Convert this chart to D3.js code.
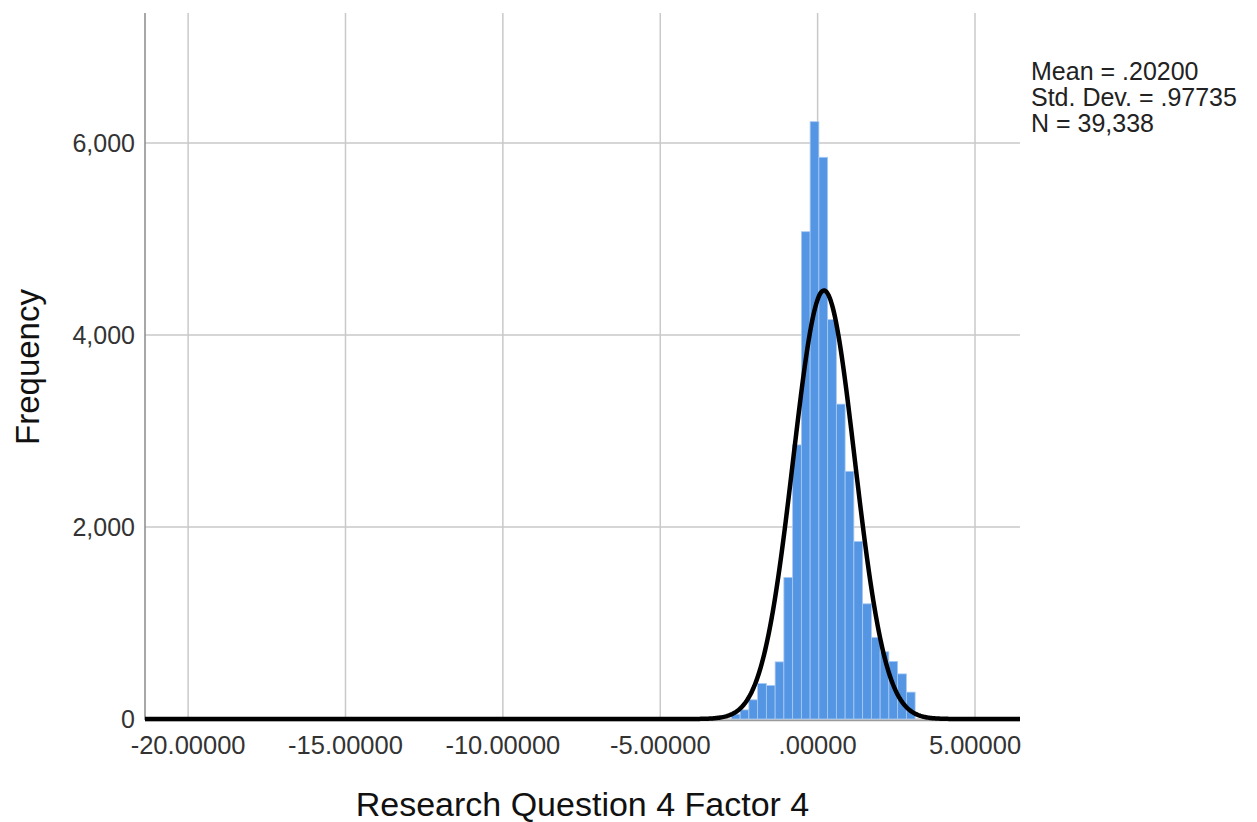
<!DOCTYPE html>
<html>
<head>
<meta charset="utf-8">
<script src="https://cdn.jsdelivr.net/npm/d3@7"></script>
<style>
  html, body { margin: 0; padding: 0; background: #fff; }
  svg { display: block; font-family: "Liberation Sans", Arial, sans-serif; }
</style>
</head>
<body>
<svg id="chart" width="1257" height="822"></svg>
<script>
// Histogram bins: lower edge of each bin and its frequency
const binStarts = [-2.740, -2.462, -2.184, -1.906, -1.628, -1.350, -1.072, -0.794, -0.516, -0.238,
                   0.040, 0.318, 0.596, 0.874, 1.152, 1.430, 1.708, 1.986, 2.264, 2.542, 2.820];
const binCounts = [50, 95, 200, 370, 350, 595, 1475, 2855, 5076, 6222,
                   5851, 4160, 3280, 2580, 1850, 1200, 850, 700, 600, 470, 280];
const binWidth = 0.278;

// Summary statistics shown in the legend and used for the normal curve
const statLabels = ["Mean = .20200", "Std. Dev. = .97735", "N = 39,338"];
const mean = 0.20200;
const stdDev = 0.97735;
const nCases = 39338;

// Axis ticks
const xTicks = [-20, -15, -10, -5, 0, 5];
const yTicks = [0, 2000, 4000, 6000];
const xTitle = "Research Question 4 Factor 4";
const yTitle = "Frequency";

const svg = d3.select("#chart");
const plot = { left: 145, right: 1020, top: 13, bottom: 719 };

const x = d3.scaleLinear().domain([-21.37, 6.43]).range([plot.left, plot.right]);
const y = d3.scaleLinear().domain([0, 7354]).range([plot.bottom, plot.top]);

const fmtX = v => {
  const s = d3.format(".5f")(Math.abs(v));
  const t = Math.abs(v) < 1 ? s.replace(/^0/, "") : s;
  return (v < 0 ? "-" : "") + t;
};
const fmtY = d3.format(",");

// Grid lines
const grid = svg.append("g").attr("class", "grid");
grid.selectAll("line.vx").data(xTicks).join("line")
  .attr("x1", d => x(d)).attr("x2", d => x(d))
  .attr("y1", plot.top).attr("y2", plot.bottom)
  .attr("stroke", "#c9c9c9").attr("stroke-width", 1.5);
grid.selectAll("line.hy").data(yTicks).join("line")
  .attr("x1", plot.left).attr("x2", plot.right)
  .attr("y1", d => y(d)).attr("y2", d => y(d))
  .attr("stroke", "#c9c9c9").attr("stroke-width", 1.5);

// Bars
svg.append("g").selectAll("rect").data(binStarts).join("rect")
  .attr("x", d => x(d))
  .attr("width", d => x(d + binWidth) - x(d))
  .attr("y", (d, i) => y(binCounts[i]))
  .attr("height", (d, i) => y(0) - y(binCounts[i]))
  .attr("fill", "#5596e4")
  .attr("stroke", "#a9caf2")
  .attr("stroke-width", 0.8);

// Axis lines
svg.append("line")
  .attr("x1", plot.left).attr("x2", plot.left)
  .attr("y1", plot.top).attr("y2", plot.bottom + 1)
  .attr("stroke", "#8a8a8a").attr("stroke-width", 1.5);
svg.append("line")
  .attr("x1", plot.left).attr("x2", plot.right)
  .attr("y1", plot.bottom + 1.5).attr("y2", plot.bottom + 1.5)
  .attr("stroke", "#9a9a9a").attr("stroke-width", 1.5);

// Fitted normal curve scaled to the histogram
const pdf = v => Math.exp(-0.5 * Math.pow((v - mean) / stdDev, 2)) / (stdDev * Math.sqrt(2 * Math.PI));
const [x0, x1] = x.domain();
const curvePts = d3.range(0, 801).map(i => {
  const v = x0 + (x1 - x0) * i / 800;
  return [v, nCases * binWidth * pdf(v)];
});
svg.append("path")
  .datum(curvePts)
  .attr("d", d3.line().x(d => x(d[0])).y(d => y(d[1])).curve(d3.curveLinear))
  .attr("fill", "none")
  .attr("stroke", "#000")
  .attr("stroke-width", 4.5)
  .attr("stroke-linejoin", "round");

// Tick labels
svg.append("g").selectAll("text").data(yTicks).join("text")
  .attr("x", plot.left - 10)
  .attr("y", d => y(d))
  .attr("dy", "0.36em")
  .attr("text-anchor", "end")
  .attr("font-size", 25)
  .attr("fill", "#333")
  .text(fmtY);

svg.append("g").selectAll("text").data(xTicks).join("text")
  .attr("x", d => x(d))
  .attr("y", 754)
  .attr("text-anchor", "middle")
  .attr("font-size", 25.5)
  .attr("fill", "#333")
  .text(fmtX);

// Axis titles
svg.append("text")
  .attr("x", (plot.left + plot.right) / 2)
  .attr("y", 816)
  .attr("text-anchor", "middle")
  .attr("font-size", 34)
  .attr("fill", "#111")
  .text(xTitle);

svg.append("text")
  .attr("transform", `translate(39, ${(plot.top + plot.bottom) / 2 + 1}) rotate(-90)`)
  .attr("text-anchor", "middle")
  .attr("font-size", 33)
  .attr("fill", "#111")
  .text(yTitle);

// Legend statistics
svg.append("g").selectAll("text").data(statLabels).join("text")
  .attr("x", 1031)
  .attr("y", (d, i) => 80 + i * 26)
  .attr("font-size", 25)
  .attr("fill", "#222")
  .text(d => d);
</script>
</body>
</html>
